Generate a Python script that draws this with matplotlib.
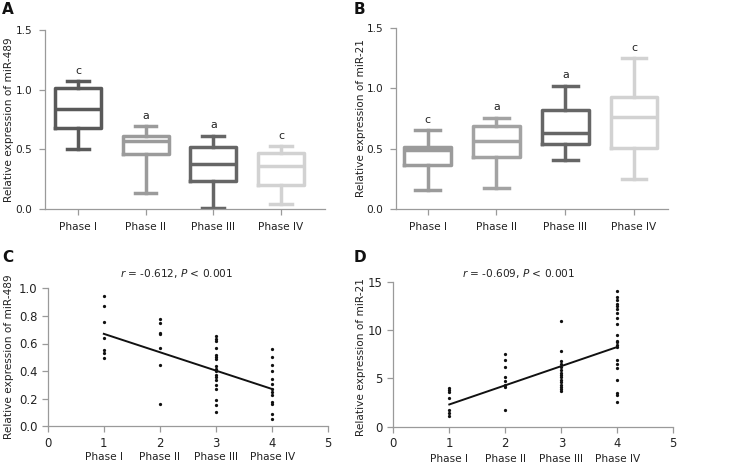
import matplotlib
matplotlib.use("Agg")
import matplotlib.pyplot as plt
import matplotlib.transforms as mtrans

plt.rcParams['font.family'] = ['DejaVu Sans']

phases = ["Phase I", "Phase II", "Phase III", "Phase IV"]

# Panel A (miR-489) box statistics: whisker low, q1, median, q3, whisker high
a_whislo = [0.50, 0.137, 0.008, 0.039]
a_q1 = [0.676, 0.464, 0.235, 0.199]
a_med = [0.84, 0.567, 0.374, 0.358]
a_q3 = [1.017, 0.615, 0.517, 0.472]
a_whishi = [1.073, 0.696, 0.615, 0.528]
a_letters = ["c", "a", "a", "c"]

# Panel B (miR-21)
b_whislo = [0.16, 0.173, 0.407, 0.253]
b_q1 = [0.366, 0.43, 0.54, 0.509]
b_med = [0.49, 0.567, 0.633, 0.763]
b_q3 = [0.515, 0.688, 0.818, 0.93]
b_whishi = [0.653, 0.755, 1.019, 1.25]
b_letters = ["c", "a", "a", "c"]

# Panel C scatter (miR-489 vs phase)
c_p1 = [0.944, 0.874, 0.753, 0.642, 0.55, 0.53, 0.492]
c_p2 = [0.775, 0.75, 0.678, 0.668, 0.566, 0.442, 0.163]
c_p3 = [0.655, 0.63, 0.615, 0.565, 0.515, 0.50, 0.486, 0.437, 0.415, 0.401,
        0.375, 0.355, 0.336, 0.299, 0.273, 0.188, 0.152, 0.101]
c_p4 = [0.56, 0.505, 0.447, 0.403, 0.343, 0.304, 0.272, 0.25, 0.225, 0.176,
        0.162, 0.091, 0.053]
c_fit_x = [1, 4]
c_fit_y = [0.67, 0.27]

# Panel D scatter (miR-21 vs phase)
d_p1 = [3.97, 3.77, 3.56, 3.0, 1.71, 1.42, 1.07]
d_p2 = [7.5, 6.88, 6.18, 5.1, 4.7, 4.35, 4.07, 1.73]
d_p3 = [10.9, 7.88, 6.77, 6.5, 6.2, 5.9, 5.6, 5.4, 5.15, 4.85, 4.6, 4.3,
        4.1, 3.9, 3.65]
d_p4 = [14.0, 13.4, 13.07, 12.74, 12.5, 12.2, 11.8, 11.25, 10.6, 9.5, 8.87,
        8.73, 8.45, 8.2, 6.85, 6.5, 6.1, 4.82, 3.49, 3.3, 2.57]
d_fit_x = [1, 4]
d_fit_y = [2.3, 8.25]

c_title = r"$\it{r}$ = -0.612, $\it{P}$ < 0.001"
d_title = r"$\it{r}$ = -0.609, $\it{P}$ < 0.001"

a_colors = ["#595959", "#9b9b9b", "#666666", "#d2d2d2"]
b_colors = ["#9b9b9b", "#a3a3a3", "#666666", "#d2d2d2"]

W, H = 731, 471
fig = plt.figure(figsize=(W / 100, H / 100), dpi=100)


def px_axes(left, right, top, bottom):
    return fig.add_axes([left / W, 1 - bottom / H, (right - left) / W, (bottom - top) / H])


spine_col = "#9a9a9a"
fs = 7.6


def style(ax, lsize):
    for s in ["top", "right"]:
        ax.spines[s].set_visible(False)
    for s in ["left", "bottom"]:
        ax.spines[s].set_color(spine_col)
        ax.spines[s].set_linewidth(0.9)
    ax.tick_params(colors=spine_col, labelcolor="#222222", labelsize=lsize,
                   length=4, width=0.9)


def boxpanel(ax, wlo, q1, med, q3, whi, letters, colors, xlim, capw):
    stats = []
    for i in range(4):
        stats.append(dict(whislo=wlo[i], q1=q1[i], med=med[i], q3=q3[i],
                          whishi=whi[i], fliers=[]))
    art = ax.bxp(stats, positions=[1, 2, 3, 4], widths=0.68,
                 capwidths=capw, showfliers=False, patch_artist=False)
    for i in range(4):
        c = colors[i]
        art['boxes'][i].set(color=c, linewidth=2.5)
        art['medians'][i].set(color=c, linewidth=2.5)
        for k in (2 * i, 2 * i + 1):
            art['whiskers'][k].set(color=c, linewidth=2.5)
            art['caps'][k].set(color=c, linewidth=2.5)
        ax.text(i + 1, whi[i] + 0.045, letters[i], ha="center", va="bottom",
                fontsize=fs + 0.3, color="#222222")
    ax.set_ylim(0, 1.5)
    ax.set_yticks([0.0, 0.5, 1.0, 1.5])
    ax.set_yticklabels(["0.0", "0.5", "1.0", "1.5"])
    ax.set_xlim(*xlim)
    ax.set_xticks([1, 2, 3, 4])
    ax.set_xticklabels(phases)
    style(ax, fs)
    ax.tick_params(axis="x", pad=5)
    ax.tick_params(axis="y", pad=5)


axA = px_axes(45, 325, 30, 209)
boxpanel(axA, a_whislo, a_q1, a_med, a_q3, a_whishi, a_letters, a_colors,
         (0.513, 4.65), 0.32)
axB = px_axes(395.7, 667.7, 27.7, 209.3)
boxpanel(axB, b_whislo, b_q1, b_med, b_q3, b_whishi, b_letters, b_colors,
         (0.534, 4.49), 0.36)


def scatpanel(ax, groups, fx, fy, ylim, yticks, title, tx, ty):
    for i, g in enumerate(groups):
        ax.scatter([i + 1] * len(g), g, s=5.5, color="#111111", zorder=3,
                   linewidths=0)
    ax.plot(fx, fy, color="#111111", linewidth=1.4, zorder=4)
    ax.set_xlim(0, 5)
    ax.set_ylim(*ylim)
    ax.set_xticks([0, 1, 2, 3, 4, 5])
    ax.set_yticks(yticks)
    style(ax, 8.4)
    trans = mtrans.blended_transform_factory(ax.transData, ax.transAxes)
    for i, p in enumerate(phases):
        ax.text(i + 1, -0.225, p, transform=trans, ha="center", va="center",
                fontsize=fs, color="#222222")
    ax.text(tx, ty, title, transform=trans, ha="center", va="center",
            fontsize=fs, color="#222222")


axC = px_axes(47.7, 328.3, 288.3, 426.3)
scatpanel(axC, [c_p1, c_p2, c_p3, c_p4], c_fit_x, c_fit_y, (0, 1.0),
          [0.0, 0.2, 0.4, 0.6, 0.8, 1.0], c_title, 2.3, 1.11)
axC.set_yticklabels(["0.0", "0.2", "0.4", "0.6", "0.8", "1.0"])
axD = px_axes(393.3, 673.3, 281.7, 426.7)
scatpanel(axD, [d_p1, d_p2, d_p3, d_p4], d_fit_x, d_fit_y, (0, 15),
          [0, 5, 10, 15], d_title, 2.23, 1.058)

# y labels
ylab_kw = dict(rotation=90, ha="center", va="center", fontsize=fs,
               color="#222222")
fig.text(9 / W, 1 - 120 / H, "Relative expression of miR-489", **ylab_kw)
fig.text(361 / W, 1 - 118 / H, "Relative expression of miR-21", **ylab_kw)
fig.text(9 / W, 1 - 357 / H, "Relative expression of miR-489", **ylab_kw)
fig.text(361 / W, 1 - 357 / H, "Relative expression of miR-21", **ylab_kw)

# panel letters
let_kw = dict(ha="left", va="top", fontsize=11, fontweight="bold",
              color="#111111")
fig.text(2 / W, 1 - 2 / H, "A", **let_kw)
fig.text(354 / W, 1 - 2 / H, "B", **let_kw)
fig.text(2 / W, 1 - 250 / H, "C", **let_kw)
fig.text(354 / W, 1 - 250 / H, "D", **let_kw)

fig.savefig("out.png", dpi=100)
